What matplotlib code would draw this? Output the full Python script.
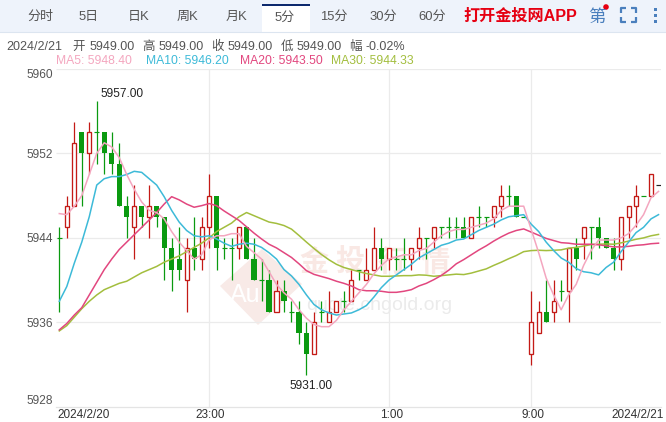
import matplotlib
matplotlib.use("Agg")
import matplotlib.pyplot as plt
from matplotlib.patches import Polygon, Rectangle, Circle

plt.rcParams['font.family'] = ['Liberation Sans', 'Noto Sans CJK SC', 'DejaVu Sans']

opens = [5944, 5945, 5947, 5954, 5952, 5954, 5954, 5952, 5951, 5947, 5945, 5947, 5946, 5947, 5946, 5943, 5942, 5940, 5943, 5942,
         5945, 5948, 5943, 5943, 5943, 5945, 5942, 5940, 5940, 5937, 5939, 5937, 5937, 5935, 5933, 5937, 5936, 5937, 5938, 5938,
         5941, 5940, 5941, 5943, 5942, 5942, 5942, 5942, 5943, 5944, 5944, 5945, 5945, 5945, 5945, 5944, 5946, 5946, 5946, 5947,
         5948, 5948, 5946, 5933, 5935, 5937, 5937, 5939, 5939, 5943, 5944, 5945, 5945, 5944, 5943, 5942, 5946, 5947, 5948, 5948,
         5949]
highs = [5945, 5948, 5955, 5954, 5955, 5957, 5954, 5954, 5953, 5948, 5949, 5947, 5949, 5947, 5946, 5944, 5945, 5944, 5946, 5946,
         5950, 5948, 5944, 5944, 5945, 5945, 5944, 5942, 5941, 5940, 5940, 5938, 5938, 5936, 5937, 5938, 5939, 5938, 5939, 5941,
         5941, 5943, 5945, 5944, 5943, 5943, 5944, 5943, 5945, 5944, 5945, 5945, 5946, 5946, 5946, 5946, 5947, 5946, 5947, 5949,
         5949, 5948, 5946, 5939, 5938, 5940, 5940, 5940, 5943, 5944, 5945, 5945, 5946, 5944, 5944, 5946, 5947, 5949, 5948, 5950,
         5949]
lows = [5937, 5944, 5947, 5947, 5950, 5951, 5950, 5950, 5947, 5944, 5942, 5945, 5944, 5945, 5940, 5939, 5940, 5937, 5941, 5941,
        5943, 5941, 5942, 5940, 5942, 5942, 5940, 5938, 5937, 5937, 5937, 5936, 5934, 5931, 5933, 5936, 5936, 5937, 5937, 5938,
        5940, 5940, 5941, 5941, 5941, 5941, 5941, 5941, 5942, 5942, 5943, 5944, 5944, 5944, 5944, 5944, 5945, 5945, 5945, 5946,
        5947, 5946, 5946, 5932, 5935, 5936, 5936, 5938, 5936, 5941, 5942, 5942, 5943, 5943, 5941, 5941, 5944, 5945, 5948, 5948,
        5949]
closes = [5944, 5947, 5953, 5952, 5954, 5954, 5952, 5951, 5947, 5946, 5947, 5946, 5947, 5946, 5943, 5941, 5941, 5943, 5942, 5945,
          5948, 5943, 5943, 5943, 5945, 5942, 5940, 5940, 5937, 5939, 5938, 5937, 5935, 5933, 5936, 5937, 5937, 5938, 5938, 5940,
          5941, 5941, 5943, 5942, 5943, 5942, 5942, 5943, 5944, 5944, 5945, 5945, 5945, 5945, 5944, 5946, 5946, 5946, 5947, 5948,
          5948, 5946, 5946, 5936, 5937, 5936, 5938, 5939, 5943, 5942, 5945, 5945, 5944, 5943, 5942, 5946, 5947, 5948, 5948, 5950,
          5949]

ma5 = [5946.3, 5946.2, 5947.0, 5948.0, 5950.0, 5952.0, 5953.0, 5952.6, 5951.6, 5950.0, 5948.6, 5947.4, 5946.6, 5946.4, 5945.8, 5944.6, 5943.6, 5942.8, 5942.0, 5942.4,
       5943.8, 5944.2, 5944.2, 5944.4, 5944.4, 5943.2, 5942.6, 5942.0, 5940.8, 5939.6, 5938.8, 5938.2, 5937.2, 5936.4, 5935.8, 5935.6, 5935.6, 5936.2, 5937.2, 5938.0,
       5938.8, 5939.6, 5940.6, 5941.4, 5942.0, 5942.2, 5942.4, 5942.4, 5942.8, 5943.0, 5943.6, 5944.2, 5944.6, 5944.8, 5944.8, 5945.0, 5945.2, 5945.4, 5945.8, 5946.6,
       5947.0, 5947.0, 5947.0, 5944.8, 5942.6, 5940.2, 5938.6, 5937.2, 5938.6, 5939.6, 5941.4, 5942.8, 5943.8, 5943.8, 5943.8, 5944.0, 5944.4, 5945.2, 5946.2, 5947.8,
       5948.4]
ma10 = [5938.0, 5939.4, 5941.6, 5943.6, 5946.0, 5949.0, 5949.6, 5949.8, 5949.8, 5950.0, 5950.3, 5950.2, 5949.6, 5949.0, 5947.9, 5946.6, 5945.5, 5944.7, 5944.2, 5944.1,
        5944.2, 5943.9, 5943.5, 5943.2, 5943.4, 5943.5, 5943.4, 5943.1, 5942.6, 5942.0, 5941.0, 5940.4, 5939.6, 5938.6, 5937.7, 5937.2, 5936.9, 5936.7, 5936.8, 5936.9,
        5937.2, 5937.6, 5938.4, 5939.3, 5940.0, 5940.5, 5941.0, 5941.5, 5942.1, 5942.5, 5942.9, 5943.3, 5943.5, 5943.8, 5943.9, 5944.3, 5944.7, 5945.0, 5945.3, 5945.7,
        5946.0, 5946.1, 5946.2, 5945.3, 5944.6, 5943.6, 5942.8, 5942.1, 5941.7, 5941.1, 5940.8, 5940.7, 5940.5, 5941.2, 5941.7, 5942.7, 5943.6, 5944.5, 5945.0, 5945.8,
        5946.2]
ma20 = [5935.3, 5935.9, 5936.7, 5937.4, 5938.6, 5939.8, 5941.0, 5942.0, 5942.9, 5943.6, 5944.3, 5945.0, 5945.7, 5946.4, 5947.2, 5947.9, 5947.6, 5947.2, 5946.9, 5947.05,
        5947.25, 5947.05, 5946.55, 5946.1, 5945.65, 5945.05, 5944.45, 5943.9, 5943.4, 5943.05, 5942.6, 5942.15, 5941.55, 5940.9, 5940.55, 5940.35, 5940.15, 5939.9, 5939.7, 5939.45,
        5939.1, 5939.0, 5939.0, 5938.95, 5938.85, 5938.85, 5938.95, 5939.1, 5939.45, 5939.7, 5940.05, 5940.45, 5940.95, 5941.55, 5941.95, 5942.4, 5942.85, 5943.25, 5943.7, 5944.1,
        5944.45, 5944.7, 5944.85, 5944.55, 5944.25, 5943.95, 5943.75, 5943.55, 5943.5, 5943.4, 5943.4, 5943.4, 5943.35, 5943.25, 5943.15, 5943.15, 5943.2, 5943.3, 5943.35, 5943.45,
        5943.5]
ma30 = [5935.2, 5935.7, 5936.5, 5937.3, 5938.0, 5938.6, 5939.1, 5939.4, 5939.7, 5939.9, 5940.3, 5940.7, 5941.0, 5941.3, 5941.7, 5942.0, 5942.3, 5942.7, 5943.1, 5943.5,
        5944.0, 5944.6, 5945.0, 5945.4, 5946.0, 5946.4, 5946.1, 5945.8, 5945.5, 5945.37, 5945.17, 5944.83, 5944.23, 5943.6, 5943.0, 5942.43, 5941.93, 5941.5, 5941.2, 5941.0,
        5940.8, 5940.63, 5940.5, 5940.37, 5940.37, 5940.4, 5940.43, 5940.43, 5940.5, 5940.47, 5940.37, 5940.43, 5940.5, 5940.57, 5940.53, 5940.67, 5940.87, 5941.07, 5941.4, 5941.7,
        5942.03, 5942.33, 5942.7, 5942.8, 5942.83, 5942.8, 5942.83, 5942.87, 5943.03, 5943.1, 5943.23, 5943.37, 5943.4, 5943.43, 5943.4, 5943.53, 5943.7, 5943.87, 5944.0, 5944.2,
        5944.33]

y_ticks = [5928, 5936, 5944, 5952, 5960]
grid_idx = [20, 44, 63]
x_tick_pos = [3.2, 20.2, 44.3, 63.3, 77.25]
x_tick_labels = ['2024/2/20', '23:00', '1:00', '9:00', '2024/2/21']

tabs = ['分时', '5日', '日K', '周K', '月K', '5分', '15分', '30分', '60分']
tab_x = [40, 89, 138.5, 187, 236, 285, 334, 383, 432]
info_parts = ['2024/2/21', '开', '5949.00', '高', '5949.00', '收', '5949.00', '低', '5949.00', '幅', '-0.02%']
info_x = [6, 72.5, 90, 142.5, 159, 211.5, 227.5, 281, 297, 349.5, 366]
ma_labels = ['MA5: 5948.40', 'MA10: 5946.20', 'MA20: 5943.50', 'MA30: 5944.33']
ma_label_x = [56, 146.5, 240, 331]

RED = '#C41A16'
GREEN = '#0A9A10'
C_MA5 = '#F4A6BF'
C_MA10 = '#3DBAD8'
C_MA20 = '#E2477F'
C_MA30 = '#A3BE3E'
BLUE = '#4A7FBD'

fig = plt.figure(figsize=(6.66, 4.22), dpi=100)

# page layer in pixels: header, watermark
bg = fig.add_axes([0, 0, 1, 1], zorder=0)
bg.set_xlim(0, 666)
bg.set_ylim(422, 0)
bg.axis('off')

bg.add_patch(Rectangle((0, 0), 666, 32, fc='#EEF3FB', ec='none'))
bg.plot([0, 666], [32, 32], color='#DCE5F0', lw=0.8)
bg.add_patch(Rectangle((261.5, 4), 48.5, 28.5, fc='white', ec='none'))
bg.add_patch(Rectangle((261.5, 4), 48.5, 2, fc='#0E2A6E', ec='none'))

for name, x in zip(tabs, tab_x):
    y = 18 if name == '5分' else 17
    bg.text(x, y, name, fontsize=9.4, color='#555555', ha='center', va='center')

bg.text(463, 16, '打开金投网APP', fontsize=11.6, color='#E60012', fontweight='bold', ha='left', va='center')
bg.text(597, 17, '第', fontsize=12.5, color=BLUE, ha='center', va='center')
bg.add_patch(Circle((606, 7), 2.8, fc='#E60012', ec='none'))
for cx, cy, dx, dy in [(620.5, 8, 1, 1), (635.5, 8, -1, 1), (620.5, 22, 1, -1), (635.5, 22, -1, -1)]:
    bg.plot([cx + 5 * dx, cx, cx], [cy, cy, cy + 5 * dy], color=BLUE, lw=1.6, solid_capstyle='butt')
for cy in [9, 15, 21]:
    bg.add_patch(Rectangle((653.5, cy - 1.5), 3.4, 3.2, fc=BLUE, ec='none'))

for txt, x in zip(info_parts, info_x):
    bg.text(x, 47, txt, fontsize=9.0, color='#555555', ha='left', va='center')
for txt, x, c in zip(ma_labels, ma_label_x, [C_MA5, C_MA10, C_MA20, C_MA30]):
    bg.text(x, 61.5, txt, fontsize=8.7, color=c, ha='left', va='center')

bg.add_patch(Polygon([(220, 286), (262, 249), (302, 284), (258, 325)], fc='#F8EAE7', ec='none'))
bg.text(245, 295, 'Au', fontsize=18, color='white', ha='center', va='center')
for ch, x in zip('金投行情', [314, 350, 392, 435]):
    bg.text(x, 263, ch, fontsize=21, color='#F9E8E4', fontweight='bold', ha='center', va='center')
bg.text(452, 305, 'quote.cngold.org', fontsize=14, color='#EBEBEB', ha='right', va='center')

# chart layer
ax = fig.add_axes([56 / 666, (422 - 407) / 422, (661 - 56) / 666, (407 - 68.8) / 422], zorder=1)
ax.patch.set_alpha(0)
ax.set_xlim(-0.44, 80.33)
ax.set_ylim(5928, 5960)
for side in ['top', 'left', 'right']:
    ax.spines[side].set_visible(False)
ax.spines['bottom'].set_color('#E4E4E4')
ax.spines['bottom'].set_linewidth(0.9)
ax.set_axisbelow(True)
ax.hlines(y_ticks[1:], -0.44, 80.33, color='#EBEBEB', lw=0.9, zorder=0.5)
ax.vlines(grid_idx, 5928, 5960, color='#EBEBEB', lw=0.9, zorder=0.5)

ax.set_yticks(y_ticks)
ax.set_yticklabels([str(v) for v in y_ticks], fontsize=8.6, color='#555555')
ax.set_xticks(x_tick_pos)
ax.set_xticklabels(x_tick_labels, fontsize=8.5, color='#333333')
ax.tick_params(length=0)
ax.tick_params(axis='x', pad=1.5)
ax.tick_params(axis='y', pad=2)
ylabels = ax.get_yticklabels()
ylabels[0].set_va('bottom')
ylabels[-1].set_va('top')

idx = list(range(len(closes)))
for i in idx:
    o, h, l, c = opens[i], highs[i], lows[i], closes[i]
    if c > o:
        col = RED
    elif i == idx[-1]:
        col = '#222222'
    else:
        col = GREEN
    if h > l:
        ax.vlines(i, l, h, color=col, lw=0.9, zorder=2)
    if c == o:
        ax.hlines(o, i - 0.34, i + 0.34, color=col, lw=0.85, zorder=2)
    elif c > o:
        ax.bar(i, c - o, bottom=o, width=0.54, facecolor='white', edgecolor=col, linewidth=0.95, zorder=3)
    else:
        ax.bar(i, o - c, bottom=c, width=0.68, color=col, linewidth=0, zorder=3)

ax.plot(idx, ma30, color=C_MA30, lw=1.1, zorder=4)
ax.plot(idx, ma20, color=C_MA20, lw=1.1, zorder=4)
ax.plot(idx, ma10, color=C_MA10, lw=1.1, zorder=4)
ax.plot(idx, ma5, color=C_MA5, lw=1.1, zorder=4)

top_i = highs.index(max(highs))
low_i = lows.index(min(lows))
ax.annotate('5957.00', (top_i, highs[top_i]), xytext=(3, 0.5), textcoords='offset points',
            fontsize=8.6, color='#222222', ha='left', va='bottom')
ax.annotate('5931.00', (low_i, lows[low_i]), xytext=(3, -3.5), textcoords='offset points',
            fontsize=8.6, color='#222222', ha='center', va='top')

fig.savefig('out.png', dpi=100)
